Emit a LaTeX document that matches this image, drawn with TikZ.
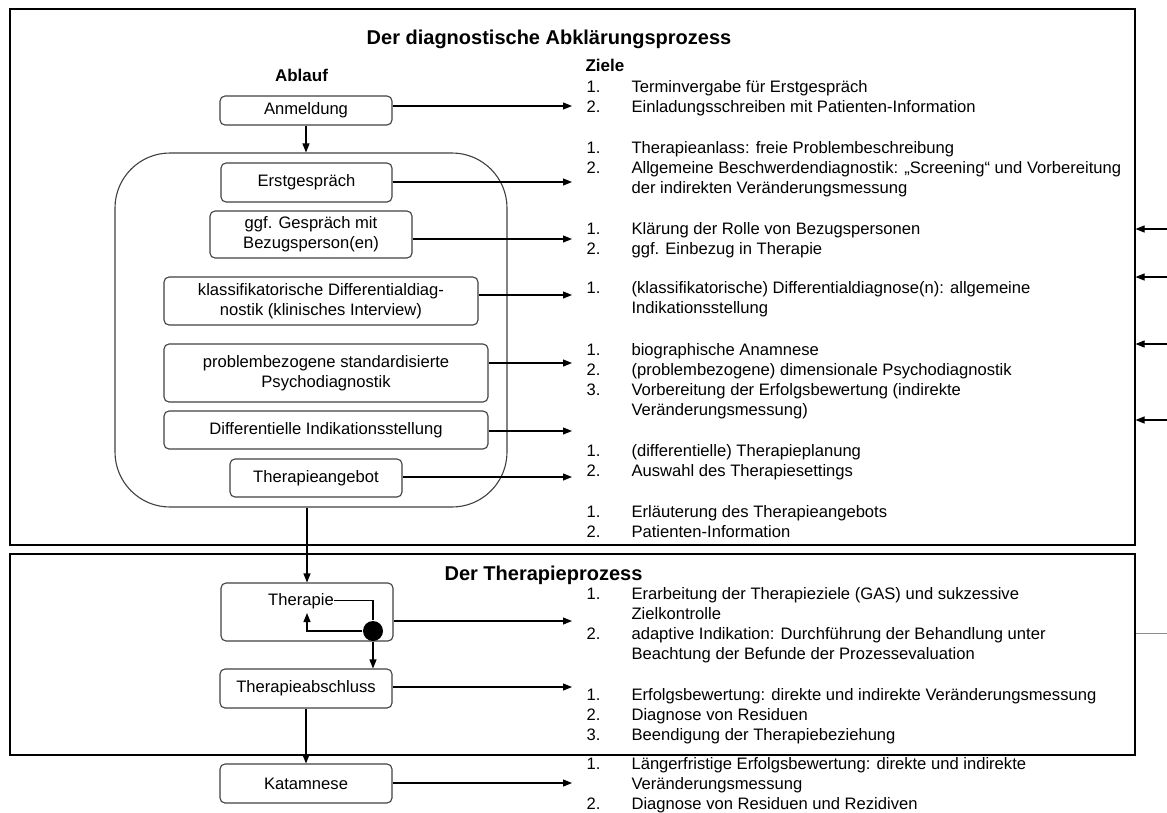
\documentclass[tikz,border=0pt]{standalone}
\usepackage{fontspec}
\setmainfont{Liberation Sans}
\usetikzlibrary{arrows.meta,positioning}
\newcommand{\zn}[1]{\strut\makebox[45pt][l]{#1}}

\begin{document}
\begin{tikzpicture}[x=1pt,y=-1pt,>={Triangle[length=9pt,width=7pt]},line width=1.1pt,
  font=\fontsize{16.6}{20}\selectfont,
  rahmen/.style={draw,inner sep=0pt},
  schritt/.style={draw=black!75,rounded corners=5pt,align=center,inner sep=0pt},
  ziel/.style={anchor=north west,align=left,inner sep=0pt},
  titel/.style={font=\fontsize{20}{24}\selectfont\bfseries,anchor=base,inner sep=0pt},
  kopf/.style={font=\fontsize{17}{20}\selectfont\bfseries,anchor=base,inner sep=0pt}]
  \useasboundingbox (0,0) rectangle (1167,812);

  \node[rahmen,minimum width=1125pt,minimum height=536pt] (diag) at (572.5,277) {};
  \node[rahmen,minimum width=1125pt,minimum height=201pt] (thpro) at (572.5,654.5) {};
  \node[titel] (t_diag) at (549,44) {Der diagnostische Abklärungsprozess};
  \node[titel] (t_ther) at (543.5,580) {Der Therapieprozess};
  \node[kopf] (ablauf) at (301.5,81) {Ablauf};
  \node[kopf,anchor=base west] (ziele) at (585,71) {Ziele};

  \node[draw=black!75,rounded corners=55pt,minimum width=392pt,minimum height=354pt] (cont) at (311,330) {};

  \node[schritt,minimum width=172pt,minimum height=29pt] (anm) at (306,110.5) {Anmeldung};
  \node[schritt,minimum width=171pt,minimum height=39pt] (erst) at (306.5,182.5) {Erstgespräch};
  \node[schritt,minimum width=202pt,minimum height=47pt] (bez) at (311,234.5) {ggf. Gespräch mit\\Bezugsperson(en)};
  \node[schritt,minimum width=314pt,minimum height=48pt] (klass) at (321,301) {klassifikatorische Differentialdiag-\\nostik (klinisches Interview)};
  \node[schritt,minimum width=324pt,minimum height=58pt] (probl) at (326,373) {problembezogene standardisierte\\Psychodiagnostik};
  \node[schritt,minimum width=324pt,minimum height=38pt] (diff) at (326,430) {Differentielle Indikationsstellung};
  \node[schritt,minimum width=172pt,minimum height=38pt] (angebot) at (316,478) {Therapieangebot};
  \node[schritt,minimum width=172pt,minimum height=58pt] (ther) at (307,612) {};
  \node[inner sep=0pt,anchor=base] (therlbl) at (301,605) {Therapie};
  \node[schritt,minimum width=172pt,minimum height=39pt] (abschl) at (306,688.5) {Therapieabschluss};
  \node[schritt,minimum width=172pt,minimum height=39pt] (katam) at (306,783.5) {Katamnese};

  \node[ziel] (z_anm) at (586,78) {\zn{1.}Terminvergabe für Erstgespräch\\\zn{2.}Einladungsschreiben mit Patienten-Information};
  \node[ziel] (z_erst) at (586,138.7) {\zn{1.}Therapieanlass: freie Problembeschreibung\\\zn{2.}Allgemeine Beschwerdendiagnostik: „Screening“ und Vorbereitung\\\zn{}der indirekten Veränderungsmessung};
  \node[ziel] (z_bez) at (586,219.7) {\zn{1.}Klärung der Rolle von Bezugspersonen\\\zn{2.}ggf. Einbezug in Therapie};
  \node[ziel] (z_klass) at (586,279.3) {\zn{1.}(klassifikatorische) Differentialdiagnose(n): allgemeine\\\zn{}Indikationsstellung};
  \node[ziel] (z_probl) at (586,341.3) {\zn{1.}biographische Anamnese\\\zn{2.}(problembezogene) dimensionale Psychodiagnostik\\\zn{3.}Vorbereitung der Erfolgsbewertung (indirekte\\\zn{}Veränderungsmessung)};
  \node[ziel] (z_diff) at (586,442) {\zn{1.}(differentielle) Therapieplanung\\\zn{2.}Auswahl des Therapiesettings};
  \node[ziel] (z_angebot) at (586,502.7) {\zn{1.}Erläuterung des Therapieangebots\\\zn{2.}Patienten-Information};
  \node[ziel] (z_ther) at (586,584.7) {\zn{1.}Erarbeitung der Therapieziele (GAS) und sukzessive\\\zn{}Zielkontrolle\\\zn{2.}adaptive Indikation: Durchführung der Behandlung unter\\\zn{}Beachtung der Befunde der Prozessevaluation};
  \node[ziel] (z_abschl) at (586,686) {\zn{1.}Erfolgsbewertung: direkte und indirekte Veränderungsmessung\\\zn{2.}Diagnose von Residuen\\\zn{3.}Beendigung der Therapiebeziehung};
  \node[ziel] (z_katam) at (586,755) {\zn{1.}Längerfristige Erfolgsbewertung: direkte und indirekte\\\zn{}Veränderungsmessung\\\zn{2.}Diagnose von Residuen und Rezidiven};

  % Ablauf
  \draw[->] (anm.south) -- (anm.south |- cont.north);
  \draw[->] (ther.north |- cont.south) -- (ther.north);
  \draw[->] (abschl) -- (katam);
  \node[circle,fill,inner sep=0pt,minimum size=20pt] (knoten) at (373,631) {};
  \coordinate (rueck) at (307,613);
  \draw (therlbl.east) -| (knoten);
  \draw[->] (knoten) -| (rueck);
  \draw[->] (knoten) -- (knoten |- abschl.north);

  % Pfeile zu den Zielen
  \foreach \n/\y in {anm/106,erst/182,bez/239,klass/295,probl/363,diff/431,angebot/477,ther/621,abschl/687,katam/783}{
    \coordinate (t_\n) at (572,\y);
    \draw[->] (\n.east |- t_\n) -- (t_\n);
  }
  \foreach \y [count=\i] in {229,277,344,420}{
    \coordinate (r_\i) at (1167,\y);
    \draw[->] (r_\i) -- (r_\i -| diag.east);
  }
  \coordinate (g_r) at (1167,633);
  \draw[black!45,line width=0.7pt] (g_r -| thpro.east) -- (g_r);
\end{tikzpicture}
\end{document}
